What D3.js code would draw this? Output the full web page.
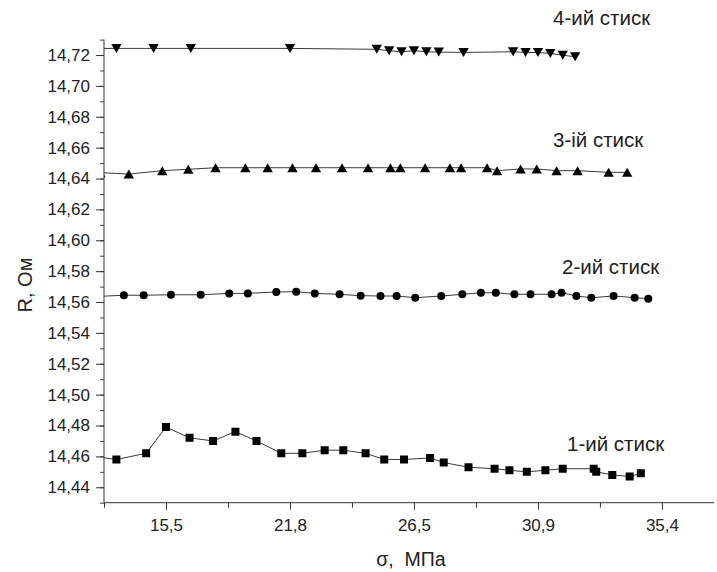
<!DOCTYPE html>
<html>
<head>
<meta charset="utf-8">
<script src="https://cdn.jsdelivr.net/npm/d3@7"></script>
<style>
  html, body { margin: 0; padding: 0; background: #fff; }
  svg { display: block; font-family: "Liberation Sans", Arial, sans-serif; }
</style>
</head>
<body>
<svg id="chart" width="717" height="572"></svg>
<script>
// Positions along the σ axis are in tick steps; labelled ticks sit at 1..5.
const xTickPos = [1, 2, 3, 4, 5];
const xTickLabels = ["15,5", "21,8", "26,5", "30,9", "35,4"];
const yTicks = [14.44, 14.46, 14.48, 14.50, 14.52, 14.54, 14.56, 14.58, 14.60, 14.62, 14.64, 14.66, 14.68, 14.70, 14.72];

// 1-ий стиск (squares)
const s1x = [0.42, 0.60, 0.84, 1.00, 1.19, 1.38, 1.56, 1.73, 1.93, 2.10, 2.28, 2.43, 2.61, 2.76, 2.92, 3.13, 3.24, 3.44, 3.65, 3.77, 3.91, 4.06, 4.20, 4.45, 4.47, 4.60, 4.74, 4.83];
const s1y = [14.460, 14.458, 14.462, 14.479, 14.472, 14.470, 14.476, 14.470, 14.462, 14.462, 14.464, 14.464, 14.462, 14.458, 14.458, 14.459, 14.456, 14.453, 14.452, 14.451, 14.450, 14.451, 14.452, 14.452, 14.450, 14.448, 14.447, 14.449];

// 2-ий стиск (circles)
const s2x = [0.42, 0.66, 0.82, 1.04, 1.28, 1.51, 1.66, 1.89, 2.05, 2.20, 2.40, 2.57, 2.73, 2.86, 3.01, 3.22, 3.39, 3.54, 3.66, 3.81, 3.94, 4.11, 4.19, 4.31, 4.43, 4.61, 4.78, 4.89];
const s2y = [14.5635, 14.5644, 14.5644, 14.5647, 14.5647, 14.5656, 14.5656, 14.5665, 14.5667, 14.5656, 14.5650, 14.5641, 14.5639, 14.5639, 14.5628, 14.5639, 14.5650, 14.5660, 14.5660, 14.5650, 14.5650, 14.5650, 14.5660, 14.5639, 14.5628, 14.5639, 14.5628, 14.5622];

// 3-ій стиск (up triangles)
const s3x = [0.47, 0.70, 0.97, 1.18, 1.40, 1.64, 1.82, 2.02, 2.21, 2.42, 2.63, 2.81, 2.89, 3.09, 3.29, 3.38, 3.59, 3.67, 3.86, 3.99, 4.15, 4.32, 4.57, 4.72];
const s3y = [14.6438, 14.6429, 14.6451, 14.6460, 14.6470, 14.6470, 14.6470, 14.6470, 14.6470, 14.6470, 14.6470, 14.6470, 14.6470, 14.6470, 14.6470, 14.6470, 14.6470, 14.6451, 14.6462, 14.6462, 14.6451, 14.6451, 14.6440, 14.6440];

// 4-ий стиск (down triangles)
const s4x = [0.45, 0.60, 0.90, 1.20, 2.00, 2.70, 2.80, 2.90, 3.00, 3.10, 3.20, 3.40, 3.80, 3.90, 4.00, 4.10, 4.20, 4.30];
const s4y = [14.7243, 14.7243, 14.7243, 14.7243, 14.7243, 14.7237, 14.7228, 14.7221, 14.7228, 14.7221, 14.7219, 14.7217, 14.7221, 14.7217, 14.7216, 14.7210, 14.7199, 14.7189];

const seriesNames = ["1-ий стиск", "2-ий стиск", "3-ій стиск", "4-ий стиск"];

const svg = d3.select("#chart");
const plotLeft = 104, plotRight = 714, plotTop = 39.6, plotBottom = 502.7;

const x = d3.scaleLinear().domain([0.5, 5.42]).range([plotLeft, plotRight]);
const y = d3.scaleLinear().domain([14.43, 14.73]).range([plotBottom, plotTop]);

svg.append("defs").append("clipPath").attr("id", "plot")
  .append("rect").attr("x", plotLeft).attr("y", 0)
  .attr("width", plotRight - plotLeft).attr("height", plotBottom);

const font = "17px";

// Y axis: minor ticks every 0.01, labelled ticks every 0.02
const yMinor = svg.append("g").attr("transform", `translate(${plotLeft},0)`)
  .call(d3.axisLeft(y).tickValues(d3.range(14.43, 14.7301, 0.01)).tickSize(4).tickFormat(""));
yMinor.select(".domain").remove();
yMinor.selectAll(".tick line").attr("stroke", "#444");
const yMajor = svg.append("g").attr("transform", `translate(${plotLeft},0)`)
  .call(d3.axisLeft(y).tickValues(yTicks).tickSize(8).tickPadding(6)
    .tickFormat(d => d3.format(".2f")(d).replace(".", ",")));
yMajor.select(".domain").attr("d", `M0,${plotTop}V${plotBottom}`).attr("stroke", "#333");
yMajor.selectAll(".tick line").attr("stroke", "#333");
yMajor.selectAll(".tick text").attr("font-size", font).attr("fill", "#222")
  .attr("font-family", "Liberation Sans, Arial, sans-serif");

// X axis
const xMinor = svg.append("g").attr("transform", `translate(0,${plotBottom})`)
  .call(d3.axisBottom(x).tickValues([0.5, 1.5, 2.5, 3.5, 4.5]).tickSize(5).tickFormat(""));
xMinor.select(".domain").remove();
xMinor.selectAll(".tick line").attr("stroke", "#333");
const xMajor = svg.append("g").attr("transform", `translate(0,${plotBottom})`)
  .call(d3.axisBottom(x).tickValues(xTickPos).tickSize(7).tickPadding(9)
    .tickFormat((d, i) => xTickLabels[i]));
xMajor.select(".domain").attr("d", `M${plotLeft},0H${plotRight}`).attr("stroke", "#333");
xMajor.selectAll(".tick line").attr("stroke", "#333");
xMajor.selectAll(".tick text").attr("font-size", font).attr("fill", "#222")
  .attr("font-family", "Liberation Sans, Arial, sans-serif");

// Axis titles
svg.append("text").attr("transform", "translate(32,285) rotate(-90)")
  .attr("text-anchor", "middle").attr("font-size", "20px").attr("fill", "#222").text("R, Ом");
svg.append("text").attr("x", 411).attr("y", 566)
  .attr("text-anchor", "middle").attr("font-size", "19.5px").attr("fill", "#222")
  .attr("xml:space", "preserve").text("σ,  МПа");

// Marker shapes, centred on their bounding box
function marker(kind) {
  if (kind === "square") return "M-4,-4H4V4H-4Z";
  if (kind === "circle") return "M4,0A4,4 0 1,1 -4,0A4,4 0 1,1 4,0Z";
  if (kind === "up") return "M0,-4.5L5.2,4.5H-5.2Z";
  return "M0,4.5L5.2,-4.5H-5.2Z";
}

const series = [
  { xs: s1x, ys: s1y, kind: "square" },
  { xs: s2x, ys: s2y, kind: "circle" },
  { xs: s3x, ys: s3y, kind: "up" },
  { xs: s4x, ys: s4y, kind: "down" }
];

const line = d3.line().x(d => x(d[0])).y(d => y(d[1]));
const plot = svg.append("g").attr("clip-path", "url(#plot)");

series.forEach(s => {
  const pts = s.xs.map((v, i) => [v, s.ys[i]]);
  plot.append("path").datum(pts).attr("d", line)
    .attr("fill", "none").attr("stroke", "#3a3a3a").attr("stroke-width", 1);
  plot.selectAll(null).data(pts).enter().append("path")
    .attr("transform", d => `translate(${x(d[0])},${y(d[1])})`)
    .attr("d", marker(s.kind)).attr("fill", "#000");
});

// Series captions
const captionPos = [[567, 451], [562, 274], [553, 147], [553, 25]];
seriesNames.forEach((n, i) => {
  svg.append("text").attr("x", captionPos[i][0]).attr("y", captionPos[i][1])
    .attr("font-size", "20.5px").attr("fill", "#222").text(n);
});
</script>
</body>
</html>
